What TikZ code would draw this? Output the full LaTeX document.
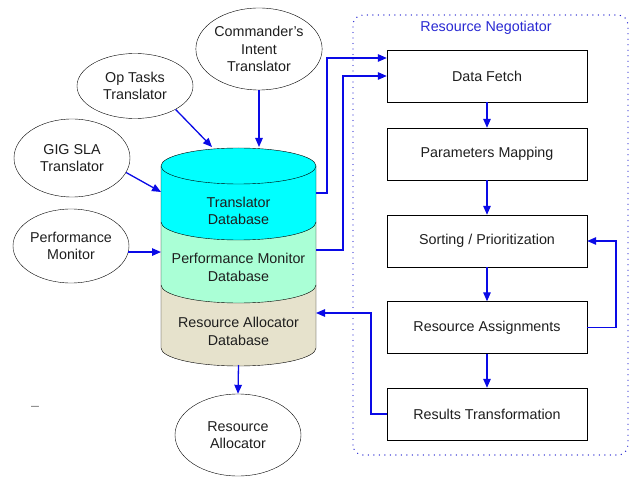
\documentclass[tikz,border=0pt]{standalone}
\usepackage{fontspec}
\setmainfont{Liberation Sans}
\usetikzlibrary{shapes.geometric,arrows.meta}
\definecolor{linkblue}{RGB}{10,10,230}
\definecolor{titleblue}{RGB}{40,40,210}
\definecolor{txtgray}{RGB}{30,30,30}
\definecolor{dbcyan}{RGB}{0,255,255}
\definecolor{dbgreen}{RGB}{170,255,214}
\definecolor{dbtan}{RGB}{230,226,204}
\tikzset{
  every node/.style={font=\fontsize{14.3}{17.5}\selectfont, text=txtgray},
  oval/.style={ellipse, draw, thin, inner sep=0pt, align=center},
  stepbox/.style={rectangle, draw, thin, minimum width=200pt, minimum height=52pt, inner sep=0pt},
  link/.style={draw=linkblue, line width=1.3pt, -{Triangle[length=9pt,width=7.5pt]}},
  dblabel/.style={align=center}
}
\begin{document}
\begin{tikzpicture}[x=1pt,y=1pt]
\useasboundingbox (0,0) rectangle (634,477);

% --- source ellipses ---
\node[oval, minimum width=126pt, minimum height=82pt] (cmd) at (259,428) {Commander's\\Intent\\Translator};
\node[oval, minimum width=116pt, minimum height=65pt] (op) at (135,391) {Op Tasks\\Translator};
\node[oval, minimum width=116pt, minimum height=78pt] (gig) at (72,319) {GIG SLA\\Translator};
\node[oval, minimum width=116pt, minimum height=74pt] (pm) at (71,231) {Performance\\Monitor};
\node[oval, minimum width=126pt, minimum height=82pt] (ra) at (238,42) {Resource\\Allocator};

% --- stacked database cylinder ---
\def\cx{238.5}\def\rx{77.5}\def\ry{18}
\fill[dbtan] (161,192) -- (161,129) arc[start angle=180,end angle=360,x radius=\rx,y radius=\ry] -- (316,192) -- cycle;
\fill[dbgreen] (161,255) -- (161,192) arc[start angle=180,end angle=360,x radius=\rx,y radius=\ry] -- (316,255) -- cycle;
\fill[dbcyan] (161,311) -- (161,255) arc[start angle=180,end angle=360,x radius=\rx,y radius=\ry] -- (316,311) -- cycle;
\draw[thin] (161,311) -- (161,129) arc[start angle=180,end angle=360,x radius=\rx,y radius=\ry] -- (316,311);
\draw[thin] (161,255) arc[start angle=180,end angle=360,x radius=\rx,y radius=\ry];
\draw[thin] (161,192) arc[start angle=180,end angle=360,x radius=\rx,y radius=\ry];
\draw[thin, fill=dbcyan] (\cx,311) ellipse[x radius=\rx,y radius=\ry];
\coordinate (cylL) at (161,250);
\coordinate (cylR) at (316,250);
\node[dblabel] (tdb) at (\cx,266) {Translator\\Database};
\node[dblabel] (pmdb) at (\cx,209.5) {Performance Monitor\\Database};
\node[dblabel] (radb) at (\cx,145.5) {Resource Allocator\\Database};

% --- resource negotiator group ---
\draw[titleblue, line width=1.4pt, dash pattern=on 0pt off 5.5pt, line cap=round, rounded corners=10pt]
  (353,22) rectangle (628,462);
\node[text=titleblue] (rn) at (486,449) {Resource Negotiator};
\node[stepbox] (fetch) at (487,401) {Data Fetch};
\node[stepbox] (map) at (487,323) {Parameters Mapping};
\node[stepbox] (sort) at (487,236) {Sorting / Prioritization};
\node[stepbox] (assign) at (487,149.5) {Resource Assignments};
\node[stepbox] (trans) at (487,63) {Results Transformation};

% --- connectors ---
\coordinate (opEnd) at (212,330);
\coordinate (gigEnd) at (161,285);
\coordinate (cmdEnd) at (259,330);
\draw[link] (cmd.south) -- (cmdEnd);
\draw[link] (op.-30) -- (opEnd);
\draw[link] (gig.-15) -- (gigEnd);
\draw[link] (pm.-6) -- (pm.-6 -| cylL);
\draw[link] (radb.south |- 0,112) -- (ra.north);

\coordinate (tOut) at (316,284);
\coordinate (pOut) at (316,227);
\draw[link] (tOut) -- (327,284) |- ([yshift=18pt]fetch.west);
\draw[link] (pOut) -- (343,227) |- (fetch.west);

\draw[link] (fetch) -- (map);
\draw[link] (map) -- (sort);
\draw[link] (sort) -- (assign);
\draw[link] (assign) -- (trans);
\draw[link] (assign.east) -- (616,149.5) |- (sort.east);
\draw[link] (trans.west) -- (371,63) |- (316,164);

% stray mark at lower left
\node[text=gray] (mark) at (35,69) {--};
\end{tikzpicture}
\end{document}
